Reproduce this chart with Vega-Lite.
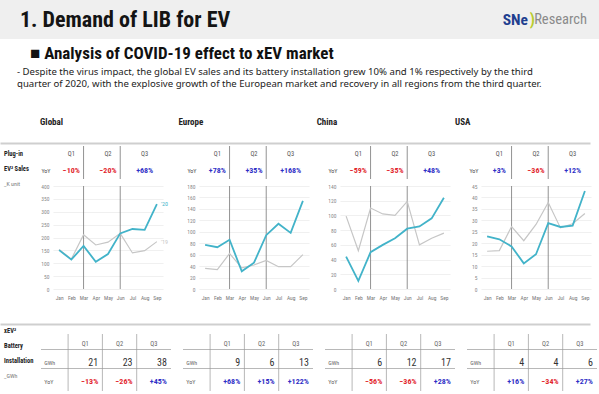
{
  "$schema": "https://vega.github.io/schema/vega-lite/v6.json",
  "padding": 0,
  "background": "white",
  "config": {
    "view": {"stroke": null},
    "font": "Roboto Condensed, Liberation Sans, sans-serif",
    "axis": {"domain": false, "ticks": false, "labelOverlap": false}
  },
  "datasets": {
    "brand": [
      {"piece": "title", "text": "1. Demand of LIB for EV"},
      {"piece": "sne", "text": "SNe"},
      {"piece": "paren", "text": ")"},
      {"piece": "research", "text": "Research"}
    ],
    "sidelabels": [
      {"block": "sales", "line": 1, "text": "Plug-in"},
      {"block": "sales", "line": 2, "text": "EV² Sales"},
      {"block": "sales", "line": 3, "text": "_K unit"},
      {"block": "battery", "line": 1, "text": "xEV²"},
      {"block": "battery", "line": 2, "text": "Battery"},
      {"block": "battery", "line": 3, "text": "Installation"},
      {"block": "battery", "line": 4, "text": "_GWh"}
    ],
    "dividers": [{"month": "Mar"}, {"month": "Jun"}],
    "rowlabels": [{"row": "GWh"}, {"row": "YoY"}],
    "quarters": [
      {"region": "Global", "quarter": "Q1", "sales_yoy": -0.10, "gwh": 21, "batt_yoy": -0.13},
      {"region": "Global", "quarter": "Q2", "sales_yoy": -0.20, "gwh": 23, "batt_yoy": -0.26},
      {"region": "Global", "quarter": "Q3", "sales_yoy": 0.68, "gwh": 38, "batt_yoy": 0.45},
      {"region": "Europe", "quarter": "Q1", "sales_yoy": 0.78, "gwh": 9, "batt_yoy": 0.68},
      {"region": "Europe", "quarter": "Q2", "sales_yoy": 0.35, "gwh": 6, "batt_yoy": 0.15},
      {"region": "Europe", "quarter": "Q3", "sales_yoy": 1.68, "gwh": 13, "batt_yoy": 1.22},
      {"region": "China", "quarter": "Q1", "sales_yoy": -0.59, "gwh": 6, "batt_yoy": -0.56},
      {"region": "China", "quarter": "Q2", "sales_yoy": -0.35, "gwh": 12, "batt_yoy": -0.36},
      {"region": "China", "quarter": "Q3", "sales_yoy": 0.48, "gwh": 17, "batt_yoy": 0.28},
      {"region": "USA", "quarter": "Q1", "sales_yoy": 0.03, "gwh": 4, "batt_yoy": 0.16},
      {"region": "USA", "quarter": "Q2", "sales_yoy": -0.36, "gwh": 4, "batt_yoy": -0.34},
      {"region": "USA", "quarter": "Q3", "sales_yoy": 0.12, "gwh": 6, "batt_yoy": 0.27}
    ],
    "sales": [
      {"region": "Global", "series": "'19", "month": "Jan", "value": 154},
      {"region": "Global", "series": "'19", "month": "Feb", "value": 116},
      {"region": "Global", "series": "'19", "month": "Mar", "value": 211},
      {"region": "Global", "series": "'19", "month": "Apr", "value": 171},
      {"region": "Global", "series": "'19", "month": "May", "value": 182},
      {"region": "Global", "series": "'19", "month": "Jun", "value": 216},
      {"region": "Global", "series": "'19", "month": "Jul", "value": 140},
      {"region": "Global", "series": "'19", "month": "Aug", "value": 149},
      {"region": "Global", "series": "'19", "month": "Sep", "value": 184},
      {"region": "Global", "series": "'20", "month": "Jan", "value": 151},
      {"region": "Global", "series": "'20", "month": "Feb", "value": 114},
      {"region": "Global", "series": "'20", "month": "Mar", "value": 167},
      {"region": "Global", "series": "'20", "month": "Apr", "value": 106},
      {"region": "Global", "series": "'20", "month": "May", "value": 136},
      {"region": "Global", "series": "'20", "month": "Jun", "value": 216},
      {"region": "Global", "series": "'20", "month": "Jul", "value": 233},
      {"region": "Global", "series": "'20", "month": "Aug", "value": 230},
      {"region": "Global", "series": "'20", "month": "Sep", "value": 330},
      {"region": "Europe", "series": "'19", "month": "Jan", "value": 36},
      {"region": "Europe", "series": "'19", "month": "Feb", "value": 34},
      {"region": "Europe", "series": "'19", "month": "Mar", "value": 62},
      {"region": "Europe", "series": "'19", "month": "Apr", "value": 37},
      {"region": "Europe", "series": "'19", "month": "May", "value": 42},
      {"region": "Europe", "series": "'19", "month": "Jun", "value": 50},
      {"region": "Europe", "series": "'19", "month": "Jul", "value": 39},
      {"region": "Europe", "series": "'19", "month": "Aug", "value": 39},
      {"region": "Europe", "series": "'19", "month": "Sep", "value": 60},
      {"region": "Europe", "series": "'20", "month": "Jan", "value": 77},
      {"region": "Europe", "series": "'20", "month": "Feb", "value": 73},
      {"region": "Europe", "series": "'20", "month": "Mar", "value": 86},
      {"region": "Europe", "series": "'20", "month": "Apr", "value": 31},
      {"region": "Europe", "series": "'20", "month": "May", "value": 46},
      {"region": "Europe", "series": "'20", "month": "Jun", "value": 94},
      {"region": "Europe", "series": "'20", "month": "Jul", "value": 114},
      {"region": "Europe", "series": "'20", "month": "Aug", "value": 98},
      {"region": "Europe", "series": "'20", "month": "Sep", "value": 154},
      {"region": "China", "series": "'19", "month": "Jan", "value": 99},
      {"region": "China", "series": "'19", "month": "Feb", "value": 52},
      {"region": "China", "series": "'19", "month": "Mar", "value": 110},
      {"region": "China", "series": "'19", "month": "Apr", "value": 102},
      {"region": "China", "series": "'19", "month": "May", "value": 100},
      {"region": "China", "series": "'19", "month": "Jun", "value": 119},
      {"region": "China", "series": "'19", "month": "Jul", "value": 60},
      {"region": "China", "series": "'19", "month": "Aug", "value": 69},
      {"region": "China", "series": "'19", "month": "Sep", "value": 76},
      {"region": "China", "series": "'20", "month": "Jan", "value": 44},
      {"region": "China", "series": "'20", "month": "Feb", "value": 11},
      {"region": "China", "series": "'20", "month": "Mar", "value": 50},
      {"region": "China", "series": "'20", "month": "Apr", "value": 60},
      {"region": "China", "series": "'20", "month": "May", "value": 69},
      {"region": "China", "series": "'20", "month": "Jun", "value": 82},
      {"region": "China", "series": "'20", "month": "Jul", "value": 85},
      {"region": "China", "series": "'20", "month": "Aug", "value": 96},
      {"region": "China", "series": "'20", "month": "Sep", "value": 124},
      {"region": "USA", "series": "'19", "month": "Jan", "value": 16.5},
      {"region": "USA", "series": "'19", "month": "Feb", "value": 16.8},
      {"region": "USA", "series": "'19", "month": "Mar", "value": 27.3},
      {"region": "USA", "series": "'19", "month": "Apr", "value": 21.1},
      {"region": "USA", "series": "'19", "month": "May", "value": 28.2},
      {"region": "USA", "series": "'19", "month": "Jun", "value": 37.8},
      {"region": "USA", "series": "'19", "month": "Jul", "value": 26.7},
      {"region": "USA", "series": "'19", "month": "Aug", "value": 28.5},
      {"region": "USA", "series": "'19", "month": "Sep", "value": 33},
      {"region": "USA", "series": "'20", "month": "Jan", "value": 23},
      {"region": "USA", "series": "'20", "month": "Feb", "value": 21.7},
      {"region": "USA", "series": "'20", "month": "Mar", "value": 18.6},
      {"region": "USA", "series": "'20", "month": "Apr", "value": 11.2},
      {"region": "USA", "series": "'20", "month": "May", "value": 15.2},
      {"region": "USA", "series": "'20", "month": "Jun", "value": 28.8},
      {"region": "USA", "series": "'20", "month": "Jul", "value": 27.1},
      {"region": "USA", "series": "'20", "month": "Aug", "value": 27.7},
      {"region": "USA", "series": "'20", "month": "Sep", "value": 42.8}
    ]
  },
  "spacing": 6,
  "vconcat": [
    {
      "width": 599,
      "height": 39,
      "view": {"fill": "#efefef", "stroke": null},
      "data": {"name": "brand"},
      "layer": [
        {
          "transform": [{"filter": "datum.piece === 'title'"}],
          "mark": {"type": "text", "align": "left", "dx": 20, "fontSize": 22, "fontWeight": "bold", "color": "#141414"},
          "encoding": {
            "x": {"datum": "left", "type": "nominal", "scale": {"type": "point", "domain": ["left", "right"], "padding": 0}, "axis": null},
            "text": {"field": "text"}
          }
        },
        {
          "transform": [{"filter": "datum.piece === 'research'"}],
          "mark": {"type": "text", "align": "right", "dx": -12, "fontSize": 14.5, "color": "#8a8a8a"},
          "encoding": {"x": {"datum": "right", "type": "nominal"}, "text": {"field": "text"}}
        },
        {
          "transform": [{"filter": "datum.piece === 'paren'"}],
          "mark": {"type": "text", "align": "right", "dx": -64, "fontSize": 16, "fontWeight": "bold", "color": "#b8cc2e"},
          "encoding": {"x": {"datum": "right", "type": "nominal"}, "text": {"field": "text"}}
        },
        {
          "transform": [{"filter": "datum.piece === 'sne'"}],
          "mark": {"type": "text", "align": "right", "dx": -71, "fontSize": 15.5, "fontWeight": "bold", "color": "#1f3f8f"},
          "encoding": {"x": {"datum": "right", "type": "nominal"}, "text": {"field": "text"}}
        }
      ]
    },
    {
      "spacing": 22,
      "vconcat": [
        {
          "title": {"text": "■ Analysis of COVID-19 effect to xEV market", "anchor": "start", "dx": 30, "fontSize": 17, "fontWeight": "bold", "color": "#111", "offset": 4},
          "spacing": 2,
          "vconcat": [
            {
              "width": 590, "height": 30,
              "title": {
                "text": [
                  "- Despite the virus impact, the global EV sales and its battery installation grew 10% and 1% respectively by the third",
                  "quarter of 2020, with the explosive growth of the European market and recovery in all regions from the third quarter."
                ],
                "anchor": "start", "frame": "bounds", "dx": 17, "font": "Noto Sans", "fontSize": 9.6, "fontWeight": "normal", "color": "#222", "lineHeight": 12, "offset": 24
              },
              "data": {"name": "quarters"},
              "transform": [{"filter": "datum.quarter === 'Q1'"}],
              "mark": {"type": "text", "align": "left", "dy": -6, "fontSize": 9, "fontWeight": "bold", "color": "#222"},
              "encoding": {
                "x": {"field": "region", "type": "nominal", "scale": {"type": "point", "domain": ["Global", "Europe", "China", "USA"], "padding": 0.633, "align": 0.229},
                      "axis": {"domain": true, "domainColor": "#cfcfcf", "domainWidth": 2, "labels": false, "ticks": false, "grid": false, "title": null}},
                "text": {"field": "region"}
              }
            },
            {
              "spacing": 4,
              "hconcat": [
                {
                  "width": 36, "height": 45,
                  "data": {"name": "sidelabels"},
                  "layer": [
                    {"transform": [{"filter": "datum.block === 'sales' && datum.line < 3"}],
                     "mark": {"type": "text", "align": "left", "dx": 4, "fontSize": 6.5, "fontWeight": "bold", "color": "#222"},
                     "encoding": {
                       "x": {"field": "block", "type": "nominal", "scale": {"type": "point", "padding": 0, "align": 0}, "axis": null},
                       "y": {"field": "line", "type": "ordinal", "scale": {"domain": [1, 2, 3]}, "axis": null},
                       "text": {"field": "text"}
                     }},
                    {"transform": [{"filter": "datum.block === 'sales' && datum.line === 3"}],
                     "mark": {"type": "text", "align": "left", "dx": 4, "fontSize": 6, "color": "#777"},
                     "encoding": {
                       "x": {"field": "block", "type": "nominal"},
                       "y": {"field": "line", "type": "ordinal"},
                       "text": {"field": "text"}
                     }}
                  ]
                },
                {
                  "spacing": 18,
                  "hconcat": [
                    {
                      "spacing": 4,
                      "vconcat": [
                        {
                          "width": 110, "height": 33,
                          "resolve": {"scale": {"x": "independent"}},
                          "layer": [
                            {"data": {"name": "dividers"}, "mark": {"type": "rule", "color": "#777", "strokeWidth": 0.8},
                             "encoding": {"x": {"field": "month", "type": "nominal", "scale": {"type": "point", "domain": ["Jan","Feb","Mar","Apr","May","Jun","Jul","Aug","Sep"], "padding": 0.5}, "axis": null}}},
                            {"data": {"name": "quarters"}, "transform": [{"filter": "datum.region === 'Global'"}],
                             "mark": {"type": "text", "fontSize": 6.5, "color": "#555"},
                             "encoding": {
                               "x": {"field": "quarter", "type": "nominal", "scale": {"type": "band", "domain": ["Q1","Q2","Q3"], "paddingInner": 0, "paddingOuter": 0}, "axis": null},
                               "y": {"datum": "Q", "type": "nominal", "scale": {"domain": ["Q", "YoY"]},
                                     "axis": {"labelExpr": "datum.value === 'YoY' ? 'YoY' : ''", "labelFontSize": 6, "labelColor": "#555", "labelPadding": 3, "grid": false, "title": null}},
                               "text": {"field": "quarter"}
                             }},
                            {"data": {"name": "quarters"}, "transform": [{"filter": "datum.region === 'Global'"}],
                             "mark": {"type": "text", "fontSize": 8, "fontWeight": "bold"},
                             "encoding": {
                               "x": {"field": "quarter", "type": "nominal", "scale": {"type": "band", "domain": ["Q1","Q2","Q3"], "paddingInner": 0, "paddingOuter": 0}, "axis": null},
                               "y": {"datum": "YoY", "type": "nominal"},
                               "text": {"field": "sales_yoy", "format": "+.0%"},
                               "color": {"condition": {"test": "datum.sales_yoy < 0", "value": "#e2262d"}, "value": "#2f2fc6"}
                             }}
                          ]
                        },
                        {
                          "width": 110, "height": 103,
                          "encoding": {"x": {"field": "month", "type": "nominal", "scale": {"type": "point", "domain": ["Jan","Feb","Mar","Apr","May","Jun","Jul","Aug","Sep"], "padding": 0.5},
                                             "axis": {"labelAngle": 0, "labelFontSize": 5.5, "labelColor": "#777", "labelPadding": 6, "title": null, "grid": false}}},
                          "layer": [
                            {"data": {"name": "dividers"}, "mark": {"type": "rule", "color": "#777", "strokeWidth": 0.8}},
                            {"data": {"name": "sales"}, "transform": [{"filter": "datum.region === 'Global'"}],
                             "mark": {"type": "line"},
                             "encoding": {
                               "y": {"field": "value", "type": "quantitative", "scale": {"domain": [0, 400], "nice": false},
                                     "axis": {"values": [0,50,100,150,200,250,300,350,400], "labelFontSize": 5.5, "labelColor": "#888", "labelPadding": 4, "title": null, "grid": true, "gridColor": "#e6e6e6", "gridWidth": 0.6}},
                               "color": {"field": "series", "type": "nominal", "scale": {"domain": ["'19", "'20"], "range": ["#c6c6c6", "#42b3c9"]}, "legend": null},
                               "strokeWidth": {"field": "series", "type": "nominal", "scale": {"domain": ["'19", "'20"], "range": [1.2, 1.8]}, "legend": null}
                             }},
                            {"data": {"name": "sales"}, "transform": [{"filter": "datum.region === 'Global' && datum.month === 'Sep'"}],
                             "mark": {"type": "text", "align": "left", "dx": 4, "fontSize": 6},
                             "encoding": {
                               "y": {"field": "value", "type": "quantitative", "scale": {"domain": [0, 400], "nice": false},
                                     "axis": {"values": [0,50,100,150,200,250,300,350,400], "labelFontSize": 5.5, "labelColor": "#888", "labelPadding": 4, "title": null, "grid": true, "gridColor": "#e6e6e6", "gridWidth": 0.6}},
                               "color": {"field": "series", "type": "nominal", "legend": null},
                               "text": {"field": "series"}
                             }}
                          ]
                        }
                      ]
                    },
                    {
                      "spacing": 4,
                      "vconcat": [
                        {
                          "width": 110, "height": 33,
                          "resolve": {"scale": {"x": "independent"}},
                          "layer": [
                            {"data": {"name": "dividers"}, "mark": {"type": "rule", "color": "#777", "strokeWidth": 0.8},
                             "encoding": {"x": {"field": "month", "type": "nominal", "scale": {"type": "point", "domain": ["Jan","Feb","Mar","Apr","May","Jun","Jul","Aug","Sep"], "padding": 0.5}, "axis": null}}},
                            {"data": {"name": "quarters"}, "transform": [{"filter": "datum.region === 'Europe'"}],
                             "mark": {"type": "text", "fontSize": 6.5, "color": "#555"},
                             "encoding": {
                               "x": {"field": "quarter", "type": "nominal", "scale": {"type": "band", "domain": ["Q1","Q2","Q3"], "paddingInner": 0, "paddingOuter": 0}, "axis": null},
                               "y": {"datum": "Q", "type": "nominal", "scale": {"domain": ["Q", "YoY"]},
                                     "axis": {"labelExpr": "datum.value === 'YoY' ? 'YoY' : ''", "labelFontSize": 6, "labelColor": "#555", "labelPadding": 3, "grid": false, "title": null}},
                               "text": {"field": "quarter"}
                             }},
                            {"data": {"name": "quarters"}, "transform": [{"filter": "datum.region === 'Europe'"}],
                             "mark": {"type": "text", "fontSize": 8, "fontWeight": "bold"},
                             "encoding": {
                               "x": {"field": "quarter", "type": "nominal", "scale": {"type": "band", "domain": ["Q1","Q2","Q3"], "paddingInner": 0, "paddingOuter": 0}, "axis": null},
                               "y": {"datum": "YoY", "type": "nominal"},
                               "text": {"field": "sales_yoy", "format": "+.0%"},
                               "color": {"condition": {"test": "datum.sales_yoy < 0", "value": "#e2262d"}, "value": "#2f2fc6"}
                             }}
                          ]
                        },
                        {
                          "width": 110, "height": 103,
                          "encoding": {"x": {"field": "month", "type": "nominal", "scale": {"type": "point", "domain": ["Jan","Feb","Mar","Apr","May","Jun","Jul","Aug","Sep"], "padding": 0.5},
                                             "axis": {"labelAngle": 0, "labelFontSize": 5.5, "labelColor": "#777", "labelPadding": 6, "title": null, "grid": false}}},
                          "layer": [
                            {"data": {"name": "dividers"}, "mark": {"type": "rule", "color": "#777", "strokeWidth": 0.8}},
                            {"data": {"name": "sales"}, "transform": [{"filter": "datum.region === 'Europe'"}],
                             "mark": {"type": "line"},
                             "encoding": {
                               "y": {"field": "value", "type": "quantitative", "scale": {"domain": [0, 180], "nice": false},
                                     "axis": {"values": [0,20,40,60,80,100,120,140,160,180], "labelFontSize": 5.5, "labelColor": "#888", "labelPadding": 4, "title": null, "grid": true, "gridColor": "#e6e6e6", "gridWidth": 0.6}},
                               "color": {"field": "series", "type": "nominal", "scale": {"domain": ["'19", "'20"], "range": ["#c6c6c6", "#42b3c9"]}, "legend": null},
                               "strokeWidth": {"field": "series", "type": "nominal", "scale": {"domain": ["'19", "'20"], "range": [1.2, 1.8]}, "legend": null}
                             }}
                          ]
                        }
                      ]
                    },
                    {
                      "spacing": 4,
                      "vconcat": [
                        {
                          "width": 110, "height": 33,
                          "resolve": {"scale": {"x": "independent"}},
                          "layer": [
                            {"data": {"name": "dividers"}, "mark": {"type": "rule", "color": "#777", "strokeWidth": 0.8},
                             "encoding": {"x": {"field": "month", "type": "nominal", "scale": {"type": "point", "domain": ["Jan","Feb","Mar","Apr","May","Jun","Jul","Aug","Sep"], "padding": 0.5}, "axis": null}}},
                            {"data": {"name": "quarters"}, "transform": [{"filter": "datum.region === 'China'"}],
                             "mark": {"type": "text", "fontSize": 6.5, "color": "#555"},
                             "encoding": {
                               "x": {"field": "quarter", "type": "nominal", "scale": {"type": "band", "domain": ["Q1","Q2","Q3"], "paddingInner": 0, "paddingOuter": 0}, "axis": null},
                               "y": {"datum": "Q", "type": "nominal", "scale": {"domain": ["Q", "YoY"]},
                                     "axis": {"labelExpr": "datum.value === 'YoY' ? 'YoY' : ''", "labelFontSize": 6, "labelColor": "#555", "labelPadding": 3, "grid": false, "title": null}},
                               "text": {"field": "quarter"}
                             }},
                            {"data": {"name": "quarters"}, "transform": [{"filter": "datum.region === 'China'"}],
                             "mark": {"type": "text", "fontSize": 8, "fontWeight": "bold"},
                             "encoding": {
                               "x": {"field": "quarter", "type": "nominal", "scale": {"type": "band", "domain": ["Q1","Q2","Q3"], "paddingInner": 0, "paddingOuter": 0}, "axis": null},
                               "y": {"datum": "YoY", "type": "nominal"},
                               "text": {"field": "sales_yoy", "format": "+.0%"},
                               "color": {"condition": {"test": "datum.sales_yoy < 0", "value": "#e2262d"}, "value": "#2f2fc6"}
                             }}
                          ]
                        },
                        {
                          "width": 110, "height": 103,
                          "encoding": {"x": {"field": "month", "type": "nominal", "scale": {"type": "point", "domain": ["Jan","Feb","Mar","Apr","May","Jun","Jul","Aug","Sep"], "padding": 0.5},
                                             "axis": {"labelAngle": 0, "labelFontSize": 5.5, "labelColor": "#777", "labelPadding": 6, "title": null, "grid": false}}},
                          "layer": [
                            {"data": {"name": "dividers"}, "mark": {"type": "rule", "color": "#777", "strokeWidth": 0.8}},
                            {"data": {"name": "sales"}, "transform": [{"filter": "datum.region === 'China'"}],
                             "mark": {"type": "line"},
                             "encoding": {
                               "y": {"field": "value", "type": "quantitative", "scale": {"domain": [0, 140], "nice": false},
                                     "axis": {"values": [0,20,40,60,80,100,120,140], "labelFontSize": 5.5, "labelColor": "#888", "labelPadding": 4, "title": null, "grid": true, "gridColor": "#e6e6e6", "gridWidth": 0.6}},
                               "color": {"field": "series", "type": "nominal", "scale": {"domain": ["'19", "'20"], "range": ["#c6c6c6", "#42b3c9"]}, "legend": null},
                               "strokeWidth": {"field": "series", "type": "nominal", "scale": {"domain": ["'19", "'20"], "range": [1.2, 1.8]}, "legend": null}
                             }}
                          ]
                        }
                      ]
                    },
                    {
                      "spacing": 4,
                      "vconcat": [
                        {
                          "width": 110, "height": 33,
                          "resolve": {"scale": {"x": "independent"}},
                          "layer": [
                            {"data": {"name": "dividers"}, "mark": {"type": "rule", "color": "#777", "strokeWidth": 0.8},
                             "encoding": {"x": {"field": "month", "type": "nominal", "scale": {"type": "point", "domain": ["Jan","Feb","Mar","Apr","May","Jun","Jul","Aug","Sep"], "padding": 0.5}, "axis": null}}},
                            {"data": {"name": "quarters"}, "transform": [{"filter": "datum.region === 'USA'"}],
                             "mark": {"type": "text", "fontSize": 6.5, "color": "#555"},
                             "encoding": {
                               "x": {"field": "quarter", "type": "nominal", "scale": {"type": "band", "domain": ["Q1","Q2","Q3"], "paddingInner": 0, "paddingOuter": 0}, "axis": null},
                               "y": {"datum": "Q", "type": "nominal", "scale": {"domain": ["Q", "YoY"]},
                                     "axis": {"labelExpr": "datum.value === 'YoY' ? 'YoY' : ''", "labelFontSize": 6, "labelColor": "#555", "labelPadding": 3, "grid": false, "title": null}},
                               "text": {"field": "quarter"}
                             }},
                            {"data": {"name": "quarters"}, "transform": [{"filter": "datum.region === 'USA'"}],
                             "mark": {"type": "text", "fontSize": 8, "fontWeight": "bold"},
                             "encoding": {
                               "x": {"field": "quarter", "type": "nominal", "scale": {"type": "band", "domain": ["Q1","Q2","Q3"], "paddingInner": 0, "paddingOuter": 0}, "axis": null},
                               "y": {"datum": "YoY", "type": "nominal"},
                               "text": {"field": "sales_yoy", "format": "+.0%"},
                               "color": {"condition": {"test": "datum.sales_yoy < 0", "value": "#e2262d"}, "value": "#2f2fc6"}
                             }}
                          ]
                        },
                        {
                          "width": 110, "height": 103,
                          "encoding": {"x": {"field": "month", "type": "nominal", "scale": {"type": "point", "domain": ["Jan","Feb","Mar","Apr","May","Jun","Jul","Aug","Sep"], "padding": 0.5},
                                             "axis": {"labelAngle": 0, "labelFontSize": 5.5, "labelColor": "#777", "labelPadding": 6, "title": null, "grid": false}}},
                          "layer": [
                            {"data": {"name": "dividers"}, "mark": {"type": "rule", "color": "#777", "strokeWidth": 0.8}},
                            {"data": {"name": "sales"}, "transform": [{"filter": "datum.region === 'USA'"}],
                             "mark": {"type": "line"},
                             "encoding": {
                               "y": {"field": "value", "type": "quantitative", "scale": {"domain": [0, 45], "nice": false},
                                     "axis": {"values": [0,5,10,15,20,25,30,35,40,45], "labelFontSize": 5.5, "labelColor": "#888", "labelPadding": 4, "title": null, "grid": true, "gridColor": "#e6e6e6", "gridWidth": 0.6}},
                               "color": {"field": "series", "type": "nominal", "scale": {"domain": ["'19", "'20"], "range": ["#c6c6c6", "#42b3c9"]}, "legend": null},
                               "strokeWidth": {"field": "series", "type": "nominal", "scale": {"domain": ["'19", "'20"], "range": [1.2, 1.8]}, "legend": null}
                             }}
                          ]
                        }
                      ]
                    }
                  ]
                }
              ]
            }
          ]
        },
        {
          "spacing": 4,
          "vconcat": [
            {
              "width": 590, "height": 1,
              "data": {"name": "dividers"},
              "mark": {"type": "rule", "strokeOpacity": 0},
              "encoding": {"x": {"field": "month", "type": "nominal",
                                 "axis": {"domain": true, "domainColor": "#cfcfcf", "domainWidth": 2, "labels": false, "ticks": false, "grid": false, "title": null}}}
            },
            {
              "spacing": 4,
              "hconcat": [
                {
                  "width": 36, "height": 60,
                  "data": {"name": "sidelabels"},
                  "layer": [
                    {"transform": [{"filter": "datum.block === 'battery' && datum.line < 4"}],
                     "mark": {"type": "text", "align": "left", "dx": 4, "dy": -10.5, "fontSize": 6.5, "fontWeight": "bold", "color": "#222"},
                     "encoding": {
                       "x": {"field": "block", "type": "nominal", "scale": {"type": "point", "padding": 0, "align": 0}, "axis": null},
                       "y": {"field": "line", "type": "ordinal", "scale": {"domain": [1, 2, 3, 4]}, "axis": null},
                       "text": {"field": "text"}
                     }},
                    {"transform": [{"filter": "datum.block === 'battery' && datum.line === 4"}],
                     "mark": {"type": "text", "align": "left", "dx": 4, "dy": -10.5, "fontSize": 6, "color": "#777"},
                     "encoding": {
                       "x": {"field": "block", "type": "nominal"},
                       "y": {"field": "line", "type": "ordinal"},
                       "text": {"field": "text"}
                     }}
                  ]
                },
                {
                  "spacing": 10,
                  "hconcat": [
                    {
                      "width": 130, "height": 57,
                      "layer": [
                        {"data": {"name": "quarters"}, "transform": [{"filter": "datum.region === 'Global'"}],
                         "mark": {"type": "rule", "color": "#9a9a9a", "strokeWidth": 0.7, "xOffset": -17.15},
                         "encoding": {"x": {"field": "quarter", "type": "nominal", "scale": {"domain": ["Q1","Q2","Q3"], "paddingInner": 0, "paddingOuter": 0.395, "align": 1}, "axis": null}}},
                        {"data": {"name": "rowlabels"},
                         "mark": {"type": "rule", "color": "#9a9a9a", "strokeWidth": 0.7, "yOffset": -13},
                         "encoding": {"y": {"field": "row", "type": "nominal", "scale": {"domain": ["hdr", "GWh", "YoY"]}, "axis": null}}},
                        {"data": {"name": "quarters"}, "transform": [{"filter": "datum.region === 'Global'"}],
                         "mark": {"type": "text", "fontSize": 6.5, "color": "#666"},
                         "encoding": {"x": {"field": "quarter", "type": "nominal"}, "y": {"datum": "hdr", "type": "nominal"}, "text": {"field": "quarter"}}},
                        {"data": {"name": "quarters"}, "transform": [{"filter": "datum.region === 'Global'"}],
                         "mark": {"type": "text", "align": "right", "dx": 13, "fontSize": 10, "color": "#333"},
                         "encoding": {"x": {"field": "quarter", "type": "nominal"}, "y": {"datum": "GWh", "type": "nominal"}, "text": {"field": "gwh"}}},
                        {"data": {"name": "quarters"}, "transform": [{"filter": "datum.region === 'Global'"}],
                         "mark": {"type": "text", "align": "right", "dx": 13, "fontSize": 8, "fontWeight": "bold"},
                         "encoding": {"x": {"field": "quarter", "type": "nominal"}, "y": {"datum": "YoY", "type": "nominal"},
                                      "text": {"field": "batt_yoy", "format": "+.0%"},
                                      "color": {"condition": {"test": "datum.batt_yoy < 0", "value": "#e2262d"}, "value": "#2f2fc6"}}},
                        {"data": {"name": "rowlabels"},
                         "mark": {"type": "text", "align": "left", "dx": -41, "fontSize": 6, "color": "#666"},
                         "encoding": {"x": {"datum": "Q1", "type": "nominal"}, "y": {"field": "row", "type": "nominal"}, "text": {"field": "row"}}}
                      ]
                    },
                    {
                      "width": 130, "height": 57,
                      "layer": [
                        {"data": {"name": "quarters"}, "transform": [{"filter": "datum.region === 'Europe'"}],
                         "mark": {"type": "rule", "color": "#9a9a9a", "strokeWidth": 0.7, "xOffset": -17.15},
                         "encoding": {"x": {"field": "quarter", "type": "nominal", "scale": {"domain": ["Q1","Q2","Q3"], "paddingInner": 0, "paddingOuter": 0.395, "align": 1}, "axis": null}}},
                        {"data": {"name": "rowlabels"},
                         "mark": {"type": "rule", "color": "#9a9a9a", "strokeWidth": 0.7, "yOffset": -13},
                         "encoding": {"y": {"field": "row", "type": "nominal", "scale": {"domain": ["hdr", "GWh", "YoY"]}, "axis": null}}},
                        {"data": {"name": "quarters"}, "transform": [{"filter": "datum.region === 'Europe'"}],
                         "mark": {"type": "text", "fontSize": 6.5, "color": "#666"},
                         "encoding": {"x": {"field": "quarter", "type": "nominal"}, "y": {"datum": "hdr", "type": "nominal"}, "text": {"field": "quarter"}}},
                        {"data": {"name": "quarters"}, "transform": [{"filter": "datum.region === 'Europe'"}],
                         "mark": {"type": "text", "align": "right", "dx": 13, "fontSize": 10, "color": "#333"},
                         "encoding": {"x": {"field": "quarter", "type": "nominal"}, "y": {"datum": "GWh", "type": "nominal"}, "text": {"field": "gwh"}}},
                        {"data": {"name": "quarters"}, "transform": [{"filter": "datum.region === 'Europe'"}],
                         "mark": {"type": "text", "align": "right", "dx": 13, "fontSize": 8, "fontWeight": "bold"},
                         "encoding": {"x": {"field": "quarter", "type": "nominal"}, "y": {"datum": "YoY", "type": "nominal"},
                                      "text": {"field": "batt_yoy", "format": "+.0%"},
                                      "color": {"condition": {"test": "datum.batt_yoy < 0", "value": "#e2262d"}, "value": "#2f2fc6"}}},
                        {"data": {"name": "rowlabels"},
                         "mark": {"type": "text", "align": "left", "dx": -41, "fontSize": 6, "color": "#666"},
                         "encoding": {"x": {"datum": "Q1", "type": "nominal"}, "y": {"field": "row", "type": "nominal"}, "text": {"field": "row"}}}
                      ]
                    },
                    {
                      "width": 130, "height": 57,
                      "layer": [
                        {"data": {"name": "quarters"}, "transform": [{"filter": "datum.region === 'China'"}],
                         "mark": {"type": "rule", "color": "#9a9a9a", "strokeWidth": 0.7, "xOffset": -17.15},
                         "encoding": {"x": {"field": "quarter", "type": "nominal", "scale": {"domain": ["Q1","Q2","Q3"], "paddingInner": 0, "paddingOuter": 0.395, "align": 1}, "axis": null}}},
                        {"data": {"name": "rowlabels"},
                         "mark": {"type": "rule", "color": "#9a9a9a", "strokeWidth": 0.7, "yOffset": -13},
                         "encoding": {"y": {"field": "row", "type": "nominal", "scale": {"domain": ["hdr", "GWh", "YoY"]}, "axis": null}}},
                        {"data": {"name": "quarters"}, "transform": [{"filter": "datum.region === 'China'"}],
                         "mark": {"type": "text", "fontSize": 6.5, "color": "#666"},
                         "encoding": {"x": {"field": "quarter", "type": "nominal"}, "y": {"datum": "hdr", "type": "nominal"}, "text": {"field": "quarter"}}},
                        {"data": {"name": "quarters"}, "transform": [{"filter": "datum.region === 'China'"}],
                         "mark": {"type": "text", "align": "right", "dx": 13, "fontSize": 10, "color": "#333"},
                         "encoding": {"x": {"field": "quarter", "type": "nominal"}, "y": {"datum": "GWh", "type": "nominal"}, "text": {"field": "gwh"}}},
                        {"data": {"name": "quarters"}, "transform": [{"filter": "datum.region === 'China'"}],
                         "mark": {"type": "text", "align": "right", "dx": 13, "fontSize": 8, "fontWeight": "bold"},
                         "encoding": {"x": {"field": "quarter", "type": "nominal"}, "y": {"datum": "YoY", "type": "nominal"},
                                      "text": {"field": "batt_yoy", "format": "+.0%"},
                                      "color": {"condition": {"test": "datum.batt_yoy < 0", "value": "#e2262d"}, "value": "#2f2fc6"}}},
                        {"data": {"name": "rowlabels"},
                         "mark": {"type": "text", "align": "left", "dx": -41, "fontSize": 6, "color": "#666"},
                         "encoding": {"x": {"datum": "Q1", "type": "nominal"}, "y": {"field": "row", "type": "nominal"}, "text": {"field": "row"}}}
                      ]
                    },
                    {
                      "width": 130, "height": 57,
                      "layer": [
                        {"data": {"name": "quarters"}, "transform": [{"filter": "datum.region === 'USA'"}],
                         "mark": {"type": "rule", "color": "#9a9a9a", "strokeWidth": 0.7, "xOffset": -17.15},
                         "encoding": {"x": {"field": "quarter", "type": "nominal", "scale": {"domain": ["Q1","Q2","Q3"], "paddingInner": 0, "paddingOuter": 0.395, "align": 1}, "axis": null}}},
                        {"data": {"name": "rowlabels"},
                         "mark": {"type": "rule", "color": "#9a9a9a", "strokeWidth": 0.7, "yOffset": -13},
                         "encoding": {"y": {"field": "row", "type": "nominal", "scale": {"domain": ["hdr", "GWh", "YoY"]}, "axis": null}}},
                        {"data": {"name": "quarters"}, "transform": [{"filter": "datum.region === 'USA'"}],
                         "mark": {"type": "text", "fontSize": 6.5, "color": "#666"},
                         "encoding": {"x": {"field": "quarter", "type": "nominal"}, "y": {"datum": "hdr", "type": "nominal"}, "text": {"field": "quarter"}}},
                        {"data": {"name": "quarters"}, "transform": [{"filter": "datum.region === 'USA'"}],
                         "mark": {"type": "text", "align": "right", "dx": 13, "fontSize": 10, "color": "#333"},
                         "encoding": {"x": {"field": "quarter", "type": "nominal"}, "y": {"datum": "GWh", "type": "nominal"}, "text": {"field": "gwh"}}},
                        {"data": {"name": "quarters"}, "transform": [{"filter": "datum.region === 'USA'"}],
                         "mark": {"type": "text", "align": "right", "dx": 13, "fontSize": 8, "fontWeight": "bold"},
                         "encoding": {"x": {"field": "quarter", "type": "nominal"}, "y": {"datum": "YoY", "type": "nominal"},
                                      "text": {"field": "batt_yoy", "format": "+.0%"},
                                      "color": {"condition": {"test": "datum.batt_yoy < 0", "value": "#e2262d"}, "value": "#2f2fc6"}}},
                        {"data": {"name": "rowlabels"},
                         "mark": {"type": "text", "align": "left", "dx": -41, "fontSize": 6, "color": "#666"},
                         "encoding": {"x": {"datum": "Q1", "type": "nominal"}, "y": {"field": "row", "type": "nominal"}, "text": {"field": "row"}}}
                      ]
                    }
                  ]
                }
              ]
            }
          ]
        }
      ]
    }
  ]
}
